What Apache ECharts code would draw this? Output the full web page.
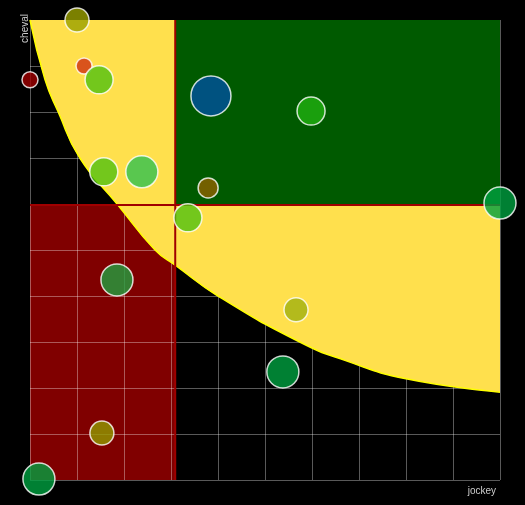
<!DOCTYPE html><html><head><meta charset="utf-8">
<script src="https://cdn.jsdelivr.net/npm/echarts@6/dist/echarts.min.js"></script>
<style>html,body{margin:0;background:#000}#c{width:525px;height:505px}</style></head><body><div id="c"></div>
<script>
const xThreshold = 3.09, yThreshold = 5.98;
const curveX = [0,0.32,0.6,1.06,1.87,2.66,3.09,4.0,5.74,6.7,8.0,10];
const curveY = [10,8.7,8.0,7.0,5.98,5.0,4.67,4.0,3.0,2.6,2.2,1.91];
const bx = [1.0,0,1.15,1.47,3.85,5.98,1.57,2.38,3.79,3.36,10,1.85,5.66,5.38,1.53,0.19];
const by = [10.0,8.7,9.0,8.7,8.35,8.02,6.7,6.7,6.35,5.7,6.02,4.35,3.7,2.35,1.02,0.02];
const bsize = [24,16,16,28,40,28,28,32,20,28,32,32,24,32,24,32];
const bcolor = ['#9aa000','#a00000','#d03010','#50c010','#0050a0','#20b010','#50c010','#30c050','#906000','#50c010','#00a040','#20a040','#a0b010','#00a040','#909a00','#00a040'];
const rects = [[0,0,xThreshold,yThreshold,'#800000'],[xThreshold,yThreshold,10,10,'#005a00']];
function rectSeries(r,z){return {type:'custom',z:z,silent:true,data:[r],renderItem:(p,api)=>{
 const a=api.coord([r[0],r[3]]), b=api.coord([r[2],r[1]]);
 return {type:'rect',shape:{x:a[0],y:a[1],width:b[0]-a[0],height:b[1]-a[1]},style:{fill:r[4]}};}};}
const chart = echarts.init(document.getElementById('c'));
chart.setOption({
 backgroundColor:'#000', animation:false,
 grid:{left:30,top:20,width:470,height:460},
 xAxis:{type:'value',min:0,max:10,interval:1,z:3,axisLine:{show:false},axisTick:{show:false},axisLabel:{show:false},
  splitLine:{lineStyle:{color:'rgba(255,255,255,0.35)'}},name:'jockey',nameLocation:'end',nameGap:0,
  nameTextStyle:{color:'#ccc',fontSize:10,align:'right',verticalAlign:'top',padding:[6,4,0,0]}},
 yAxis:{type:'value',min:0,max:10,interval:1,z:3,axisLine:{show:false},axisTick:{show:false},axisLabel:{show:false},
  splitLine:{lineStyle:{color:'rgba(255,255,255,0.35)'}},name:'cheval',nameLocation:'end',nameRotate:90,nameGap:6,
  nameTextStyle:{color:'#ccc',fontSize:10,align:'right',verticalAlign:'bottom'}},
 series:[
  rectSeries(rects[0],2),
  {type:'line',z:4,silent:true,symbol:'none',smooth:true,data:curveX.map((x,i)=>[x,curveY[i]]),
   lineStyle:{color:'#ffff00',width:1.5},areaStyle:{color:'#ffe04d',opacity:1,origin:'end'}},
  rectSeries(rects[1],5),
  {type:'line',z:6,silent:true,symbol:'none',data:[[xThreshold,0],[xThreshold,10]],lineStyle:{color:'#a00000',width:2}},
  {type:'line',z:6,silent:true,symbol:'none',data:[[0,yThreshold],[10,yThreshold]],lineStyle:{color:'#a00000',width:2}},
  {type:'scatter',z:7,data:bx.map((x,i)=>({value:[x,by[i]],symbolSize:bsize[i],itemStyle:{color:bcolor[i]}})),
   itemStyle:{borderColor:'#fff',borderWidth:1.5}}
 ]
});
</script></body></html>
